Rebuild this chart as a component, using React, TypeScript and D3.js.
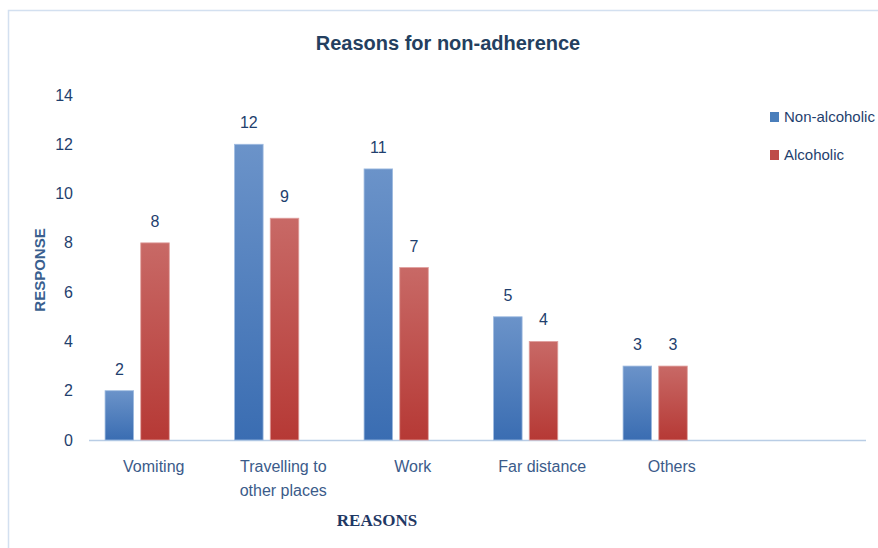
import { scaleBand, scaleLinear, range } from "d3";

const categories = ["Vomiting", "Travelling to|other places", "Work", "Far distance", "Others", ""];
const seriesNames = ["Non-alcoholic", "Alcoholic"];
const nonAlcoholic = [2, 12, 11, 5, 3];
const alcoholic = [8, 9, 7, 4, 3];
const yTicks = range(0, 15, 2);

const FONT = "'Liberation Sans Narrow', 'Liberation Sans', sans-serif";

export default function App() {
  const width = 878;
  const height = 548;
  const left = 89;
  const right = 866;
  const bottom = 440;
  const top = 95;

  const x = scaleBand().domain(categories).range([left, right]);
  const inner = scaleBand()
    .domain(seriesNames)
    .range([x.bandwidth() * 0.124, x.bandwidth() * 0.62])
    .paddingInner(0.2);
  const y = scaleLinear().domain([0, 14]).range([bottom, top]);

  const series = [
    { name: seriesNames[0], values: nonAlcoholic, grad: "gBlue", color: "#4a7ebb", stroke: "#9fbbe0" },
    { name: seriesNames[1], values: alcoholic, grad: "gRed", color: "#be4b48", stroke: "#e0a09e" },
  ];

  return (
    <svg
      width={width}
      height={height}
      style={{ position: "absolute", left: 0, top: 0, background: "#fff" }}
    >
      <defs>
        <linearGradient id="gBlue" x1="0" y1="0" x2="0" y2="1">
          <stop offset="0" stopColor="#6b93c9" />
          <stop offset="1" stopColor="#3a6db2" />
        </linearGradient>
        <linearGradient id="gRed" x1="0" y1="0" x2="0" y2="1">
          <stop offset="0" stopColor="#c86966" />
          <stop offset="1" stopColor="#b63935" />
        </linearGradient>
      </defs>
      <rect x={8.5} y={10.5} width={900} height={600} fill="#fff" stroke="#d3e0f0" strokeWidth={1.5} />

      <text x={448} y={50} textAnchor="middle" fontFamily={FONT} fontWeight="bold" fontSize={20} fill="#243f60">
        Reasons for non-adherence
      </text>

      {yTicks.map((t) => (
        <text key={t} x={73} y={y(t)} dy="0.35em" textAnchor="end" fontFamily={FONT} fontSize={16} fill="#1f3f6e">
          {t}
        </text>
      ))}

      <text
        transform={`translate(45, 270) rotate(-90)`}
        textAnchor="middle"
        fontFamily={FONT}
        fontWeight="bold"
        fontSize={15}
        fill="#3a5f8f"
      >
        RESPONSE
      </text>

      <line x1={left} x2={right} y1={bottom + 0.5} y2={bottom + 0.5} stroke="#b9cde5" strokeWidth={1.5} />

      {series.map((s) =>
        s.values.map((v, i) => {
          const bx = (x(categories[i]) ?? 0) + (inner(s.name) ?? 0);
          const bw = inner.bandwidth();
          return (
            <g key={`${s.name}-${i}`}>
              <rect x={bx} y={y(v)} width={bw} height={bottom - y(v)} fill={`url(#${s.grad})`} stroke={s.stroke} strokeWidth={0.8} />
              <text x={bx + bw / 2} y={y(v) - 16} textAnchor="middle" fontFamily={FONT} fontSize={16} fill="#1f3f6e">
                {v}
              </text>
            </g>
          );
        })
      )}

      {categories.map((c) => {
        const lines = c.split("|");
        const cx = (x(c) ?? 0) + x.bandwidth() / 2;
        return (
          <text key={c} x={cx} y={472} textAnchor="middle" fontFamily={FONT} fontSize={16} fill="#3b5b8a">
            {lines.map((l, j) => (
              <tspan key={j} x={cx} dy={j === 0 ? 0 : 24}>
                {l}
              </tspan>
            ))}
          </text>
        );
      })}

      <text x={377} y={526} textAnchor="middle" fontFamily="'Liberation Serif', serif" fontWeight="bold" fontSize={17} fill="#1f3864">
        REASONS
      </text>

      {series.map((s, i) => (
        <g key={s.name} transform={`translate(770, ${112 + i * 38})`}>
          <rect width={9} height={10} fill={s.color} />
          <text x={14} y={5} dy="0.35em" fontFamily={FONT} fontSize={15} fill="#1f3f6e">
            {s.name}
          </text>
        </g>
      ))}
    </svg>
  );
}
